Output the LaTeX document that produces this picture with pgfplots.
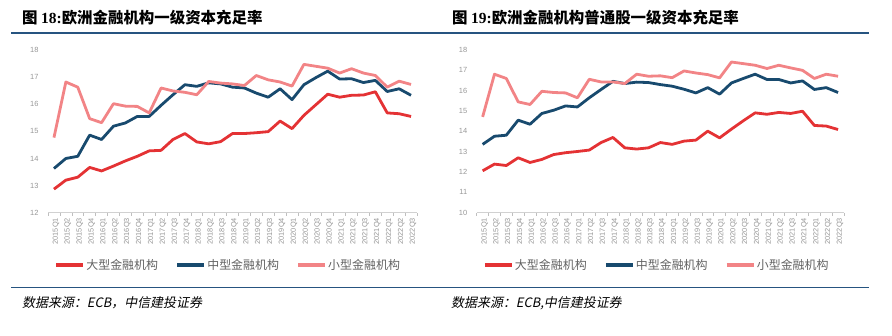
\documentclass[border=0pt]{standalone}
\usepackage{pgfplots}
\usepackage{pgfplotstable}
\pgfplotsset{compat=1.18}
\usepackage{fontspec}
\setmainfont{Liberation Sans}
\newfontfamily\cjk{Noto Sans CJK SC}
\newfontfamily\cjkit[FakeSlant=0.2]{Noto Sans CJK SC}
\newfontfamily\serifb{Liberation Serif}
\definecolor{cL}{RGB}{228,50,52}
\definecolor{cM}{RGB}{24,74,110}
\definecolor{cS}{RGB}{242,132,134}
\definecolor{rule}{RGB}{38,84,128}
\definecolor{tk}{RGB}{150,150,150}

\pgfplotstableread{
x L M S
0 12.87 13.63 14.77
1 13.20 14.00 16.82
2 13.31 14.08 16.63
3 13.67 14.86 15.47
4 13.54 14.70 15.32
5 13.72 15.19 16.02
6 13.91 15.31 15.93
7 14.08 15.55 15.92
8 14.28 15.55 15.68
9 14.30 15.96 16.60
10 14.70 16.35 16.49
11 14.92 16.72 16.44
12 14.61 16.66 16.35
13 14.54 16.79 16.84
14 14.62 16.75 16.78
15 14.92 16.63 16.75
16 14.92 16.60 16.69
17 14.95 16.41 17.06
18 14.99 16.26 16.90
19 15.38 16.57 16.82
20 15.10 16.17 16.67
21 15.59 16.72 17.47
22 15.98 16.98 17.40
23 16.37 17.22 17.33
24 16.26 16.93 17.15
25 16.33 16.94 17.31
26 16.34 16.80 17.15
27 16.46 16.88 17.06
28 15.68 16.47 16.63
29 15.65 16.57 16.85
30 15.55 16.33 16.73
}\tierone

\pgfplotstableread{
x L M S
0 12.06 13.36 14.71
1 12.39 13.76 16.81
2 12.32 13.81 16.60
3 12.70 14.55 15.45
4 12.47 14.35 15.32
5 12.62 14.88 15.97
6 12.86 15.04 15.91
7 12.95 15.25 15.89
8 13.01 15.20 15.65
9 13.08 15.65 16.56
10 13.45 16.06 16.43
11 13.70 16.46 16.43
12 13.19 16.35 16.35
13 13.13 16.42 16.81
14 13.19 16.40 16.71
15 13.45 16.30 16.73
16 13.36 16.22 16.64
17 13.52 16.07 16.97
18 13.57 15.89 16.87
19 14.01 16.15 16.79
20 13.68 15.83 16.63
21 14.11 16.38 17.41
22 14.52 16.60 17.33
23 14.91 16.81 17.25
24 14.84 16.55 17.09
25 14.93 16.55 17.25
26 14.88 16.38 17.12
27 14.99 16.48 17.00
28 14.29 16.06 16.60
29 14.26 16.15 16.81
30 14.09 15.91 16.71
}\cetone

\pgfplotsset{
  panel/.style={
    scale only axis,
    height=162.7bp,
    xmin=-0.5, xmax=30.5,
    axis x line*=bottom,
    axis y line*=left,
    y axis line style={draw=none},
    x axis line style={draw=black!18, line width=0.8bp},
    xtick={0,...,30},
    xticklabels={2015Q1,2015Q2,2015Q3,2015Q4,2016Q1,2016Q2,2016Q3,2016Q4,2017Q1,2017Q2,2017Q3,2017Q4,2018Q1,2018Q2,2018Q3,2018Q4,2019Q1,2019Q2,2019Q3,2019Q4,2020Q1,2020Q2,2020Q3,2020Q4,2021Q1,2021Q2,2021Q3,2021Q4,2022Q1,2022Q2,2022Q3},
    major x tick style={draw=none},
    minor xtick={-0.5,0.5,...,30.5},
    minor x tick style={draw=black!25, line width=0.6bp},
    minor tick length=3bp,
    xtick align=outside,
    x tick label style={rotate=90, anchor=east, font=\fontsize{7.4}{8}\selectfont, text=tk, inner sep=1bp, yshift=-2bp},
    ytick style={draw=none},
    y tick label style={font=\fontsize{7.5}{8}\selectfont, text=tk},
    yticklabel shift=6bp,
    /pgf/number format/assume math mode=true,
    every axis plot/.append style={line width=2.8bp, line join=round, no marks},
    legend columns=3,
    legend cell align=left,
    legend image code/.code={\draw[##1, line width=3.2bp] (0bp,0bp) -- (27bp,0bp);},
    legend style={draw=none, fill=none, font=\cjk\fontsize{12}{14}\selectfont, text=black!62,
      /tikz/every even column/.append style={column sep=16bp},
      anchor=center, inner sep=0pt, nodes={inner sep=1.5bp}},
  }
}

\begin{document}
\begin{tikzpicture}
\path[use as bounding box] (0,0) rectangle (892bp,-336bp);

% left panel decorations
\node[anchor=west, inner sep=0] at (22bp,-17.5bp) {\fontsize{15.5}{17}\selectfont{\cjk\bfseries 图 }{\serifb\bfseries 18:}{\cjk\bfseries 欧洲金融机构一级资本充足率}};
\draw[rule, line width=2.2bp] (11bp,-33bp) -- (446bp,-33bp);
\draw[rule, line width=1.2bp] (11bp,-287.5bp) -- (446bp,-287.5bp);
\node[anchor=west, inner sep=0] at (22bp,-303bp) {\fontsize{13}{15}\selectfont\cjkit 数据来源：ECB，中信建投证券};

% right panel decorations
\node[anchor=west, inner sep=0] at (452bp,-17.5bp) {\fontsize{15.5}{17}\selectfont{\cjk\bfseries 图 }{\serifb\bfseries 19:}{\cjk\bfseries 欧洲金融机构普通股一级资本充足率}};
\draw[rule, line width=2.2bp] (446bp,-33bp) -- (869bp,-33bp);
\draw[rule, line width=1.2bp] (446bp,-287.5bp) -- (869bp,-287.5bp);
\node[anchor=west, inner sep=0] at (451bp,-303bp) {\fontsize{13}{15}\selectfont\cjkit 数据来源：ECB,中信建投证券};

\begin{axis}[panel, width=369bp, at={(48bp,-212.7bp)}, anchor=south west,
  ymin=12, ymax=18, ytick={12,...,18},
  legend style={at={(0.488,-0.321)}}]
\addplot[cL] table[x=x,y=L] {\tierone};
\addlegendentry{大型金融机构}
\addplot[cM] table[x=x,y=M] {\tierone};
\addlegendentry{中型金融机构}
\addplot[cS] table[x=x,y=S] {\tierone};
\addlegendentry{小型金融机构}
\end{axis}

\begin{axis}[panel, width=367.3bp, at={(476.7bp,-212.7bp)}, anchor=south west,
  ymin=10, ymax=18, ytick={10,...,18},
  legend style={at={(0.49,-0.321)}}]
\addplot[cL] table[x=x,y=L] {\cetone};
\addlegendentry{大型金融机构}
\addplot[cM] table[x=x,y=M] {\cetone};
\addlegendentry{中型金融机构}
\addplot[cS] table[x=x,y=S] {\cetone};
\addlegendentry{小型金融机构}
\end{axis}
\end{tikzpicture}
\end{document}
